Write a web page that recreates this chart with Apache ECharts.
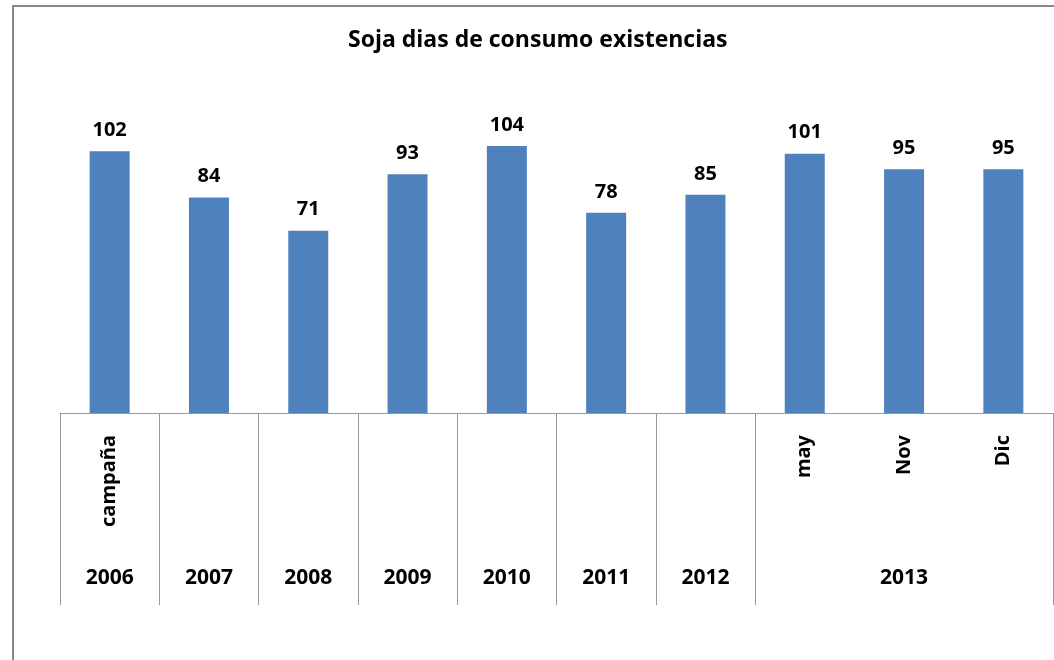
<!DOCTYPE html>
<html>
  <head>
    <meta charset="utf-8">
    <title>Soja dias de consumo existencias</title>
    <script src="https://cdn.jsdelivr.net/npm/echarts@6/dist/echarts.min.js"></script>
    <style>
      html, body { margin: 0; padding: 0; background: #fff; }
      #chart { width: 1054px; height: 660px; }
    </style>
  </head>
  <body>
    <div id="chart"></div>
    <script>
      // data
      var subLabels = ['campaña', '', '', '', '', '', '', 'may', 'Nov', 'Dic'];
      var yearLabels = ['2006', '2007', '2008', '2009', '2010', '2011', '2012', '', '2013', ''];
      var dias = [102, 84, 71, 93, 104, 78, 85, 101, 95, 95];

      var font = '"Open Sans", "Liberation Sans", sans-serif';
      var chart = echarts.init(document.getElementById('chart'));
      chart.setOption({
        animation: false,
        title: {
          text: 'Soja dias de consumo existencias',
          left: 343,
          top: 24,
          textStyle: { fontFamily: font, fontWeight: 'bold', fontSize: 23, color: '#000' }
        },
        graphic: [{
          type: 'rect',
          shape: { x: 13, y: 6, width: 1200, height: 800 },
          style: { fill: 'none', stroke: '#888', lineWidth: 2 },
          silent: true
        }],
        grid: { left: 60, right: 1, top: 105, bottom: 247 },
        xAxis: [{
          type: 'category',
          data: subLabels,
          axisLine: { lineStyle: { color: '#999', width: 1 } },
          axisTick: { show: false },
          axisLabel: {
            rotate: 90, interval: 0, margin: 22,
            fontFamily: font, fontWeight: 'bold', fontSize: 20, color: '#000'
          }
        }, {
          type: 'category',
          position: 'bottom',
          data: yearLabels,
          axisLine: { show: false },
          axisTick: {
            show: true, length: 192,
            interval: function (i) { return i <= 7; },
            lineStyle: { color: '#999', width: 1 }
          },
          axisLabel: {
            interval: 0, margin: 155,
            fontFamily: font, fontWeight: 'bold', fontSize: 21, color: '#000'
          }
        }],
        yAxis: {
          type: 'value', min: 0, max: 120,
          show: false,
          splitLine: { show: false }
        },
        series: [{
          type: 'bar',
          data: dias,
          barWidth: 40,
          itemStyle: { color: '#4F81BD' },
          label: {
            show: true, position: 'top', distance: 11,
            fontFamily: font, fontWeight: 'bold', fontSize: 20, color: '#000'
          }
        }]
      });
    </script>
  </body>
</html>
